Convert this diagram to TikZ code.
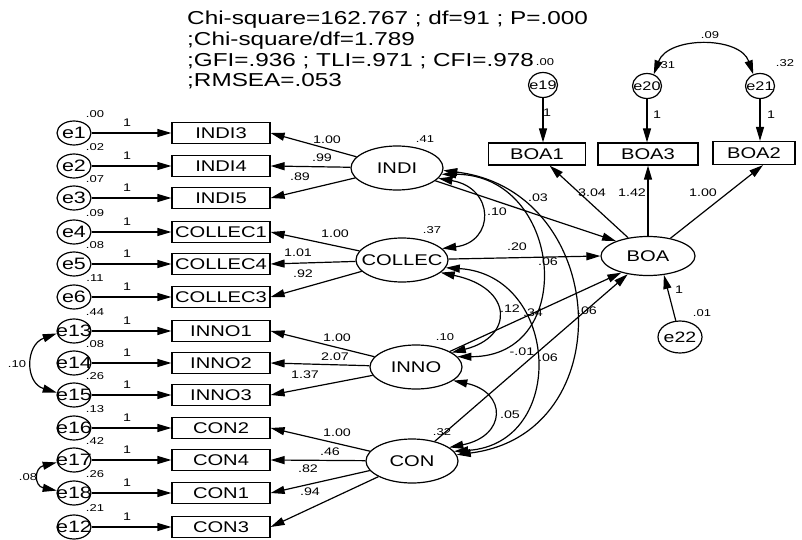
\documentclass[tikz,border=0pt]{standalone}
\usepackage{fontspec}
\setmainfont[FakeStretch=1.3]{Liberation Sans}
\usetikzlibrary{shapes.geometric,arrows.meta}
\newcommand{\zw}[1]{\makebox[0pt]{#1}}
\begin{document}
\begin{tikzpicture}[x=1pt,y=-1pt,
  lw/.style={line width=1.2pt},
  obs/.style={draw,lw,rectangle,minimum width=98pt,minimum height=21pt,inner sep=0pt,font=\fontsize{15.5}{16}\selectfont},
  err/.style={draw,lw,ellipse,minimum width=34pt,minimum height=24pt,inner sep=0pt,font=\fontsize{16.5}{17}\selectfont},
  errt/.style={err,minimum width=29pt,minimum height=25pt,font=\fontsize{12.5}{13}\selectfont},
  lat/.style={draw,lw,ellipse,minimum width=92pt,minimum height=44pt,inner sep=0pt,font=\fontsize{15.5}{16}\selectfont},
  num/.style={inner sep=0pt,font=\fontsize{11}{12}\selectfont},
  sm/.style={inner sep=0pt,font=\fontsize{10}{11}\selectfont},
  ttl/.style={anchor=base west,inner sep=0pt,font=\fontsize{18.7}{20}\selectfont},
  arr/.style={lw,-{Triangle[length=14pt,width=8pt]}},
  cov/.style={lw,{Triangle[length=14pt,width=8pt]}-{Triangle[length=14pt,width=8pt]}},
]
\useasboundingbox (0,0) rectangle (802,540);

% title
\node[ttl] (t1) at (187,25) {Chi-square=162.767 ; df=91 ; P=.000};
\node[ttl] (t2) at (187,45.7) {;Chi-square/df=1.789};
\node[ttl] (t3) at (187,66.3) {;GFI=.936 ; TLI=.971 ; CFI=.978};
\node[ttl] (t4) at (187,87) {;RMSEA=.053};

% indicators with error terms
\foreach \e/\b/\y/\v in {e1/INDI3/133/.00, e2/INDI4/166/.02, e3/INDI5/198/.07,
  e4/COLLEC1/232/.09, e5/COLLEC4/264/.08, e6/COLLEC3/297/.11,
  e13/INNO1/331/.44, e14/INNO2/363/.08, e15/INNO3/395/.26,
  e16/CON2/428/.13, e17/CON4/460/.42, e18/CON1/493/.26, e12/CON3/527/.21}{
  \node[err] (\e) at (74,\y) {\zw{\e}};
  \node[obs] (\b) at (221,\y) {\b};
  \draw[arr] (\e) -- (\b);
  \node[num] (one-\e) at (127,\y-10) {1};
  \node[sm] (var-\e) at (95,\y-19) {\v};
}
\draw[cov] (e13.188) .. controls (25,345) and (25,383) .. (e15.172);
\node[sm] (c1315) at (17,364) {.10};
\draw[cov] (e17.188) .. controls (34,468) and (34,486) .. (e18.172);
\node[sm] (c1718) at (28,477) {.08};

% latent variables
\node[lat] (INDI) at (397,168) {\zw{INDI}};
\node[lat] (COLLEC) at (402,260) {\zw{COLLEC}};
\node[lat] (INNO) at (416,367) {\zw{INNO}};
\node[lat] (CON) at (412,461) {\zw{CON}};
\node[lat,minimum width=94pt,minimum height=39pt] (BOA) at (648,256) {\zw{BOA}};

\node[sm] (vINDI) at (425,139) {.41};
\node[sm] (vCOLLEC) at (432,230) {.37};
\node[sm] (vINNO) at (445,337) {.10};
\node[sm] (vCON) at (442,432) {.32};

% loadings
\draw[arr] (INDI) -- (INDI3.east);
\draw[arr] (INDI) -- (INDI4.east);
\draw[arr] (INDI) -- (INDI5.east);
\draw[arr] (COLLEC) -- (COLLEC1.east);
\draw[arr] (COLLEC) -- (COLLEC4.east);
\draw[arr] (COLLEC) -- (COLLEC3.east);
\draw[arr] (INNO) -- (INNO1.east);
\draw[arr] (INNO) -- (INNO2.east);
\draw[arr] (INNO) -- (INNO3.east);
\draw[arr] (CON) -- (CON2.east);
\draw[arr] (CON) -- (CON4.east);
\draw[arr] (CON) -- (CON1.east);
\draw[arr] (CON) -- (CON3.east);

\node[num] (l1) at (327,140) {1.00};
\node[num] (l2) at (322,158) {.99};
\node[num] (l3) at (300,177) {.89};
\node[num] (l4) at (335,234) {1.00};
\node[num] (l5) at (298,253) {1.01};
\node[num] (l6) at (303,274) {.92};
\node[num] (l7) at (337,338) {1.00};
\node[num] (l8) at (335,357) {2.07};
\node[num] (l9) at (305,375) {1.37};
\node[num] (l10) at (337,433) {1.00};
\node[num] (l11) at (330,452) {.46};
\node[num] (l12) at (308,469) {.82};
\node[num] (l13) at (310,492) {.94};

% covariances among latents
\draw[cov] (INDI.-14) .. controls (495,188) and (495,242) .. (COLLEC.16);
\draw[cov] (COLLEC.-18) .. controls (514,288) and (514,337) .. (INNO.22);
\draw[cov] (INNO.-20) .. controls (507,392) and (507,436) .. (CON.20);
\draw[cov] (INDI.-8) .. controls (563,174) and (579,357) .. (INNO.14);
\draw[cov] (COLLEC.-10) .. controls (560,275) and (568,444) .. (CON.13);
\draw[cov] (INDI.-3) .. controls (610,191) and (623,434) .. (CON.8);

% paths to BOA
\draw[arr] (INDI) -- (BOA.155);
\draw[arr] (COLLEC) -- (BOA.west);
\draw[arr] (INNO) -- (BOA.212);
\draw[arr] (CON) -- (BOA.222);

\node[num] (m1) at (538,198) {.03};
\node[num] (m2) at (497,212) {.10};
\node[num] (m3) at (517,247) {.20};
\node[num] (m4) at (548,262) {.06};
\node[num] (m5) at (510,309) {.12};
\node[num] (m6) at (533,313) {.34};
\node[num] (m7) at (587,311) {.06};
\node[num] (m8) at (522,352) {-.01};
\node[num] (m9) at (548,358) {.06};
\node[num] (m10) at (510,415) {.05};

% BOA measurement
\node[obs,minimum width=97pt,minimum height=22pt] (BOA1) at (537,154) {BOA1};
\node[obs,minimum width=100pt,minimum height=22pt] (BOA3) at (648,154) {BOA3};
\node[obs,minimum width=82pt,minimum height=23pt] (BOA2) at (754,153) {BOA2};

\node[errt] (e19) at (543,85) {\zw{e19}};
\node[errt] (e20) at (647,86) {\zw{e20}};
\node[errt] (e21) at (760,86) {\zw{e21}};
\node[err,minimum width=44pt,minimum height=32pt,font=\fontsize{15}{16}\selectfont] (e22) at (680,337) {\zw{e22}};

\draw[arr] (e19) -- (e19 |- BOA1.north);
\draw[arr] (e20) -- (e20 |- BOA3.north);
\draw[arr] (e21) -- (e21 |- BOA2.north);
\draw[arr] (BOA) -- (BOA1);
\draw[arr] (BOA) -- (BOA3);
\draw[arr] (BOA) -- ([xshift=9pt]BOA2.south);
\draw[arr] (e22) -- (BOA.-50);
\draw[cov] (e20.60) .. controls (668,36) and (740,36) .. (e21.120);

\node[num] (b1) at (592,193) {3.04};
\node[num] (b2) at (632,193) {1.42};
\node[num] (b3) at (703,193) {1.00};
\node[sm] (v19) at (545,62) {.00};
\node[sm] (v20) at (666,65) {.31};
\node[sm] (v21) at (785,63) {.32};
\node[sm] (c2021) at (710,35) {.09};
\node[num] (o19) at (547,113) {1};
\node[num] (o20) at (657,115) {1};
\node[num] (o21) at (771,115) {1};
\node[num] (o22) at (679,290) {1};
\node[sm] (v22) at (702,313) {.01};
\end{tikzpicture}
\end{document}
